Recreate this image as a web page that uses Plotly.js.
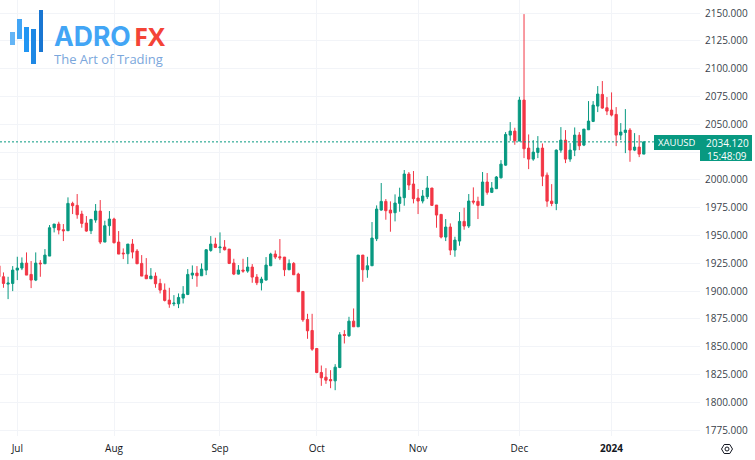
<!DOCTYPE html>
<html><head><meta charset="utf-8">
<script src="https://cdn.plot.ly/plotly-3.0.1.min.js"></script>
<style>html,body{margin:0;padding:0;background:#fff;overflow:hidden}#c{width:755px;height:460px}</style>
</head><body><div id="c"></div>
<script>
const opens=[1922.7,1912.8,1906.2,1906.8,1918.8,1920.6,1925.1,1914.9,1909.8,1925.1,1924.5,1931.4,1956.9,1960.2,1955.1,1954.2,1978.8,1977,1969.2,1961.1,1954.2,1963.8,1971.9,1944,1958.7,1964.7,1944,1934.1,1933.5,1942.2,1935.9,1924.8,1914.3,1911,1913.4,1906.8,1900.8,
1891.8,1888.5,1888.5,1893.6,1896.9,1914.3,1916.1,1913.7,1918.8,1936.5,1942.2,1938.9,1939.5,1937.7,1925.1,1915.2,1918.8,1917.9,1921.5,1912.5,1907.4,1909.8,1922.7,1933.2,1930.8,1930.5,1919.1,1924.8,1915.2,1899.6,1874.4,1864.5,1848.3,1826.7,1822.5,1820.4,
1819.2,1831.2,1860.9,1859.7,1872.9,1867.8,1932.3,1919.1,1922.7,1947,1972.8,1980.6,1972.8,1970.4,1978.8,1983.9,2005.2,1996.2,1983.6,1980.9,1984.8,1992.6,1977.3,1968.9,1948.5,1957.5,1936.8,1944.9,1962.6,1958.4,1980.9,1980.6,1977,1998,1988.7,1992,
2001.8,2013.2,2040.2,2043.8,2034.8,2071.7,2028.5,2018.6,2024.6,2028.5,2004.2,1980.8,1978.7,2026.7,2035.7,2018.6,2026.7,2040.2,2031.2,2045,2052.5,2066.3,2076.8,2064.8,2062.7,2058.8,2040.2,2042.6,2044.7,2026.7,2029.4,2023.1];
const highs=[1924.8,1916.7,1912.8,1922.4,1930.8,1930.2,1934.7,1926.9,1934.7,1927.8,1937.7,1959.3,1960.2,1962.3,1960.2,1984.2,1980.3,1987.2,1972.2,1967.4,1964.7,1978.2,1981.8,1963.2,1971.9,1965.9,1953.9,1938.3,1942.2,1946.7,1937.7,1932.3,1929.6,1920.6,1916.7,1911,1906.8,
1902.9,1896.3,1897.8,1904.4,1919.7,1923,1922.4,1924.8,1937.7,1949.4,1947.9,1952.7,1945.8,1937.7,1929,1923.3,1929,1930.5,1924.2,1915.2,1912.8,1930.5,1934.4,1936.5,1946.7,1930.5,1928.4,1926,1916.4,1899.9,1879.5,1879.5,1848.3,1833,1830.6,1828.8,
1834.2,1863,1864.8,1876.8,1884.3,1932.3,1932.3,1930.8,1962,1977,1997.1,1982.7,1980.6,1986.9,1992.9,2008.8,2007,2007.9,1991.7,1990.8,2003.4,1992.6,1977.3,1968.9,1964.7,1960.8,1948.8,1971,1974.9,1987.2,1993.2,1984.8,2007,2006.1,1998,2003.4,
2017.7,2042.9,2051.9,2046.8,2074.7,2149,2040.8,2035.7,2039.3,2032.7,2006.6,1996.1,2027.3,2047.4,2044.7,2033,2047.1,2042.9,2045.6,2070.8,2070.8,2084.3,2088.8,2074.4,2078.6,2065.4,2051,2063.6,2046.5,2042,2040.2,2034.12];
const lows=[1912.8,1902.9,1892.7,1899.9,1909.8,1918.8,1914.3,1902.6,1908.9,1912.8,1924.5,1931.4,1952.7,1950.9,1944.9,1954.2,1969.2,1965,1956.9,1953.3,1951.2,1961.4,1942.2,1944,1949.7,1942.8,1933.2,1928.7,1924.2,1929.3,1924.2,1913.4,1911,1911,1902.9,1897.8,1890.6,
1884.9,1886.4,1884.6,1888.8,1896.3,1910.7,1903.8,1913.7,1914.3,1935.3,1938.6,1934.1,1936.5,1924.2,1914.3,1914.9,1916.4,1916.4,1907.4,1905.3,1900.5,1909.5,1922.4,1928.7,1927.8,1913.4,1918.8,1914.6,1899.3,1872.3,1857,1846.2,1826.1,1814.7,1816.5,1812.6,
1810.8,1830.6,1852.8,1858.8,1867.8,1867.8,1908.3,1911.9,1922.7,1944.9,1972.2,1964.1,1953.3,1962.6,1971.3,1976.7,1990.8,1978.8,1969.2,1978.8,1982.7,1976.7,1956.9,1947.3,1944.9,1932.3,1930.8,1940.7,1955.1,1956.6,1977.9,1964.7,1977,1986.6,1988.1,1991.7,
2001.2,2012.6,2035.1,2031.5,2034.8,2019.5,2009.6,2017.1,2019.5,1994.3,1975.7,1976.3,1972.7,2024.3,2015,2016.2,2021.3,2026.7,2030.3,2045,2051.9,2060.9,2063.9,2058.2,2057,2030.3,2035.7,2024,2016.2,2025.8,2020.4,2023.1];
const closes=[1912.8,1906.8,1907.1,1918.8,1920.6,1925.1,1914.3,1909.8,1925.1,1924.5,1932.3,1956.9,1960.2,1954.8,1954.2,1978.8,1976.7,1968.6,1960.8,1953.9,1964.4,1971.9,1944,1958.7,1964.7,1943.4,1933.2,1933.5,1942.2,1935,1924.5,1913.4,1911,1913.4,1906.5,1900.8,1891.5,
1888.2,1889.1,1894.2,1897.2,1914.9,1916.1,1913.7,1919.7,1937.1,1942.2,1939.2,1939.5,1937.1,1924.8,1915.2,1918.8,1917.9,1921.5,1912.5,1907.4,1910.7,1923.3,1933.2,1930.5,1929.9,1919.1,1924.8,1914.6,1899.3,1874.1,1864.2,1847.7,1826.7,1821.9,1819.8,1819.2,
1831.5,1860.6,1860,1872.9,1867.8,1932.3,1919.1,1922.7,1947.6,1973.7,1980.6,1972.2,1970.1,1979.1,1984.5,2005.2,1995.3,1983,1980.9,1985.4,1992.6,1977,1968.3,1948.5,1957.5,1936.8,1945.8,1962.6,1958.4,1980.9,1980,1977,1998,1988.7,1992.6,2002.5,
2014.1,2040.8,2043.8,2035.1,2071.7,2027.9,2018.6,2024.9,2028.5,2003.3,1980.8,1978.7,2026.7,2035.7,2018.6,2026.7,2040.2,2030.6,2045.6,2052.8,2067.2,2077.1,2064.5,2061.8,2058.2,2040.2,2042.9,2044.7,2026.7,2029.4,2023.1,2034.12];
const monthTickSessions=[4,25,48,69,91,113,133];
const monthTickLabels=["Jul","Aug","Sep","Oct","Nov","Dec","<b>2024</b>"];
const priceTicks=[1775,1800,1825,1850,1875,1900,1925,1950,1975,2000,2025,2050,2075,2100,2125,2150];
const priceTickLabels=["1775.000","1800.000","1825.000","1850.000","1875.000","1900.000","1925.000","1950.000","1975.000","2000.000","","2050.000","2075.000","2100.000","2125.000","2150.000"];
const lastPrice=2034.12;
const sessions=opens.map((_,i)=>i);

const UP="#089981",DOWN="#f23645",GRID="#f2f4f8",TXT="#131722";
const W=700,H=436;
const X=p=>p/W, Y=p=>1-p/H;
const FONT='"Open Sans", sans-serif';
const trace={type:"candlestick",x:sessions,open:opens,high:highs,low:lows,close:closes,
  increasing:{line:{color:UP,width:1},fillcolor:UP},
  decreasing:{line:{color:DOWN,width:1},fillcolor:DOWN},
  whiskerwidth:0,hoverinfo:"skip",showlegend:false};
const rect=(x0,y0,x1,y1,c)=>({type:"rect",xref:"paper",yref:"paper",x0:X(x0),x1:X(x1),y0:Y(y0),y1:Y(y1),fillcolor:c,line:{width:0},layer:"above"});
const ann=(x,y,text,o)=>Object.assign({xref:"paper",yref:"paper",x:X(x),y:Y(y),text,showarrow:false,xanchor:"left",yanchor:"middle",borderpad:0,borderwidth:0},o);
const layout={
  width:755,height:460,margin:{l:0,r:55,t:0,b:24},paper_bgcolor:"#fff",plot_bgcolor:"#fff",
  font:{family:FONT,color:TXT,size:11},showlegend:false,
  xaxis:{type:"linear",range:[0.245,152.2],rangeslider:{visible:false},tickmode:"array",tickvals:monthTickSessions,ticktext:monthTickLabels,
    showgrid:true,gridcolor:GRID,gridwidth:1,zeroline:false,showline:false,ticks:"",tickfont:{size:10,color:TXT},ticklabelstandoff:5,automargin:false},
  yaxis:{side:"right",range:[1769.6,2161.7],tickmode:"array",tickvals:priceTicks,ticktext:priceTickLabels,showgrid:true,gridcolor:GRID,gridwidth:1,
    zeroline:false,showline:false,ticks:"",tickfont:{size:10,color:"#3a3f4b"},ticklabelstandoff:4,automargin:false},
  shapes:[
    {type:"line",xref:"paper",yref:"y",x0:0,x1:X(654),y0:lastPrice,y1:lastPrice,line:{color:UP,width:1,dash:"2px,2px"},layer:"above"},
    rect(654,135,700,150,UP),
    rect(700,135,752,161,UP),
    rect(10,32,15,45,"#64b5f6"),
    rect(17,19,22,39,"#42a5f5"),
    rect(24,27,29,52,"#2196f3"),
    rect(31,29,36,64,"#1e88e5"),
    rect(39,10,43,52,"#1976d2"),
    {type:"path",xref:"paper",yref:"paper",xsizemode:"pixel",ysizemode:"pixel",xanchor:X(727),yanchor:Y(449),
     path:"M-5.5,0 L-2.8,-4.5 L2.8,-4.5 L5.5,0 L2.8,4.5 L-2.8,4.5 Z",line:{color:"#131722",width:1},fillcolor:"rgba(0,0,0,0)",layer:"above"},
    {type:"circle",xref:"paper",yref:"paper",xsizemode:"pixel",ysizemode:"pixel",xanchor:X(727),yanchor:Y(449),
     x0:-2,x1:2,y0:-2,y1:2,line:{color:"#131722",width:1},fillcolor:"rgba(0,0,0,0)",layer:"above"}
  ],
  annotations:[
    ann(658,142.5,"XAUUSD",{font:{size:9.5,color:"#fff",family:FONT},height:13}),
    ann(705.5,142.5,"2034.120",{font:{size:10,color:"#fff",family:FONT},height:12}),
    ann(706.5,155.5,"15:48:09",{font:{size:10,color:"#fff",family:FONT},height:12}),
    ann(53.5,36,"<b>ADRO</b>",{font:{size:26.5,color:"#42a5f5",family:'Inter, sans-serif'},height:26}),
    ann(133.5,36,"<b>FX</b>",{font:{size:25.5,color:"#f44336",family:FONT},height:26}),
    ann(54,59,"The Art of Trading",{font:{size:13,color:"#7ba7dc",family:FONT},height:16})
  ]
};
Plotly.newPlot("c",[trace],layout,{displayModeBar:false,staticPlot:true});
</script></body></html>
